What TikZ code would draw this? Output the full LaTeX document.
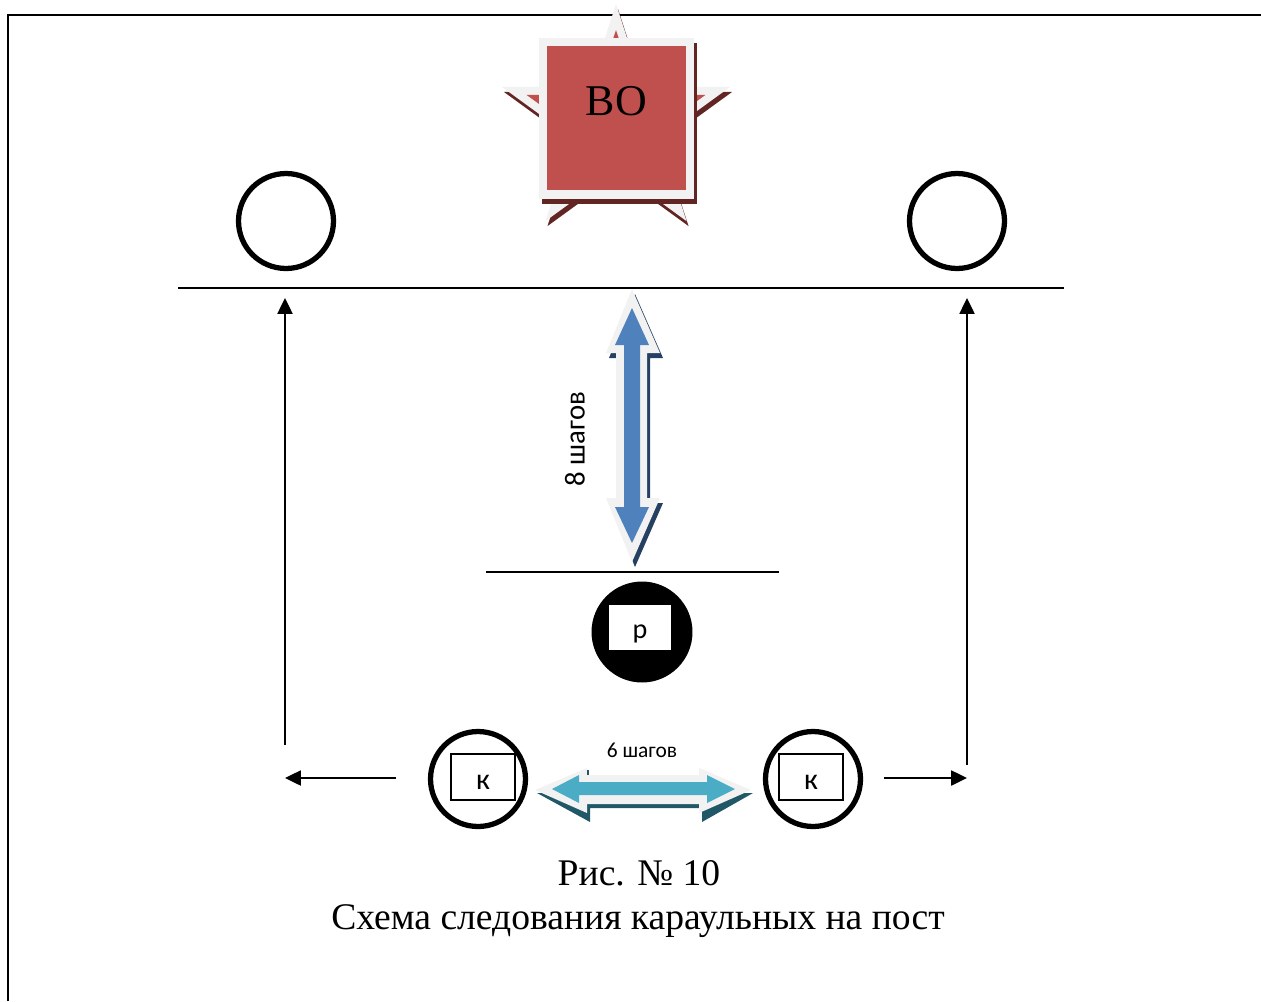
\documentclass[tikz,border=0pt]{standalone}
\usepackage{fontspec}
\setmainfont{Liberation Serif}
\newfontfamily\calibrifont{Carlito}
\usetikzlibrary{shapes.geometric,arrows.meta}
\definecolor{bored}{HTML}{C0504D}
\definecolor{bodark}{HTML}{632523}
\definecolor{pale}{HTML}{F2F2F2}
\definecolor{stepblue}{HTML}{4F81BD}
\definecolor{stepbluedark}{HTML}{254061}
\definecolor{stepteal}{HTML}{4BACC6}
\definecolor{steptealdark}{HTML}{205867}
\tikzset{
	guard/.style={circle,draw,line width=3pt,minimum size=1.9cm,inner sep=0pt},
	tag/.style={draw,line width=0.7pt,minimum width=1.28cm,minimum height=0.92cm,inner sep=0pt},
	starpart/.style={star,star points=5,star point ratio=2.618,inner sep=0pt},
	route/.style={->,line width=1.2pt},
	rule/.style={line width=1.1pt},
	sans/.style={font=\calibrifont\fontsize{#1}{#1}\selectfont}
}
\begin{document}
\begin{tikzpicture}[x=0.02cm,y=-0.02cm,>={Stealth[inset=0pt,length=9pt,width=8.5pt]}]
	\useasboundingbox (0,0) rectangle (1261,1001);
	\draw[line width=1.3pt] (8,1001)--(8,15)--(1261,15);
	% star behind the box
	\node[starpart,fill=bodark,minimum size=4.8cm] (starshadow) at (618,129) {};
	\node[starpart,fill=pale,minimum size=4.8cm] (starpale) at (616,124) {};
	\node[starpart,fill=bored,minimum size=3.76cm] (starred) at (616,124) {};
	\node[fill=bodark,minimum width=3.1cm,minimum height=3.22cm,inner sep=0pt] (boxshadow) at (619.5,123.5) {};
	\node[fill=pale,minimum width=3.1cm,minimum height=3.22cm,inner sep=0pt] (boxpale) at (616.5,118.5) {};
	\node[fill=bored,minimum width=2.78cm,minimum height=2.88cm,inner sep=0pt] (boxred) at (616.5,118) {};
	\node[font=\fontsize{25}{25}\selectfont] (bolabel) at (616.5,101) {ВО};
	% top line and the two posts
	\node[guard] (postl) at (286,221) {};
	\node[guard] (postr) at (957,221) {};
	\draw[rule] (178,288)--(1064,288);
	% routes
	\coordinate (startl) at (285,745);
	\coordinate (endl) at (285,298);
	\coordinate (startr) at (967,765);
	\coordinate (endr) at (967,298);
	\coordinate (sidel) at (285,778);
	\coordinate (sider) at (967,778);
	\draw[route] (startl)--(endl);
	\draw[route] (startr)--(endr);
	% 8 steps
	\newcommand{\tallarrow}{(632,289)--(660,353)--(647,353)--(647,498)--(660,498)--(632,562)--(606,498)--(616,498)--(616,353)--(606,353)--cycle}
	\fill[stepbluedark,shift={(3,5)}] \tallarrow;
	\fill[pale] \tallarrow;
	\fill[stepblue] (632,308)--(649,345)--(640,345)--(640,507)--(649,507)--(632,543)--(615,507)--(624,507)--(624,345)--(615,345)--cycle;
	\node[sans=16.4,rotate=90] (eightlabel) at (575,439) {8 шагов};
	\draw[rule] (486,572)--(779,572);
	% sergeant
	\node[circle,fill=black,minimum size=2.02cm,inner sep=0pt] (chief) at (642,632) {};
	\node[fill=white,minimum width=1.24cm,minimum height=0.9cm,inner sep=0pt] (chieftag) at (640,627.5) {};
	\node[sans=16] at (640,634) {р};
	% the two sentries
	\node[guard] (guardl) at (478,779) {};
	\node[guard] (guardr) at (813,779) {};
	\node[tag] (tagl) at (483,777) {};
	\node[tag] (tagr) at (811,777) {};
	\node[sans=17] at (483,782) {к};
	\node[sans=17] at (811,782) {к};
	\draw[route] (396,778)--(sidel);
	\draw[route] (884,778)--(sider);
	% 6 steps
	\fill[steptealdark] (537,793)--(590,822)--(590,808)--(702,808)--(702,822)--(753,793)--cycle;
	\fill[pale] (535,790)--(587,768)--(587,775)--(699,775)--(699,768)--(751,790)--(699,813)--(699,804)--(587,804)--(587,813)--cycle;
	\fill[steptealdark] (587,770) rectangle (589,775);
	\fill[stepteal] (552,789)--(579,775)--(579,782)--(707,782)--(707,775)--(735,789)--(707,803)--(707,795)--(579,795)--(579,803)--cycle;
	\node[sans=12.2] (sixlabel) at (642,750) {6 шагов};
	% caption
	\node[font=\fontsize{21.4}{21.4}\selectfont] (captiona) at (639,873) {Рис. № 10};
	\node[font=\fontsize{21.4}{21.4}\selectfont] (captionb) at (638,921) {Схема следования караульных на пост};
\end{tikzpicture}
\end{document}
